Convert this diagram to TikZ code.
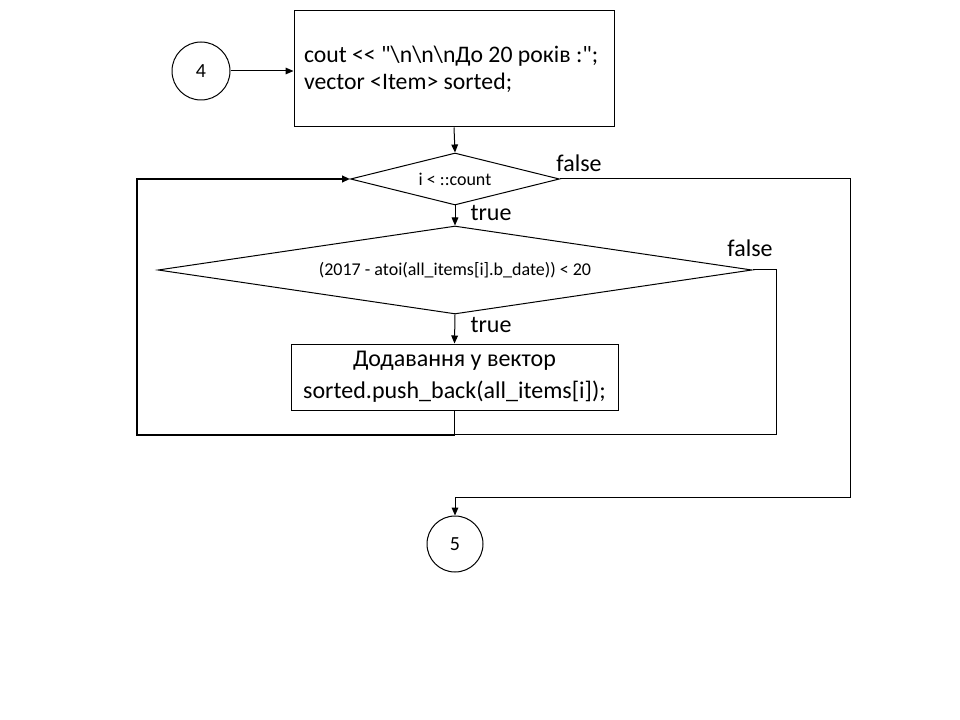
\documentclass[tikz,border=0pt]{standalone}
\usepackage{fontspec}
\setmainfont[Ligatures=TeXOff]{Carlito}
\usepackage{tikz}
\usetikzlibrary{arrows.meta}
\usetikzlibrary{calc}
\usetikzlibrary{positioning,shapes.geometric}
\tikzset{
    flow line/.style={
        line width=0.75pt,
        draw=black
    },
    flow arrow/.style={
        flow line,
        -{Triangle[length=6pt,width=5pt]}
    },
    proc box/.style={
        draw,
        line width=0.75pt,
        rectangle,
        inner sep=0pt,
        font=\fontsize{17.8}{20.5}\selectfont
    },
    cond box/.style={
        draw,
        line width=0.75pt,
        diamond,
        inner sep=0pt,
        font=\fontsize{13.5}{15}\selectfont
    },
    conn circle/.style={
        draw,
        line width=0.75pt,
        circle,
        inner sep=0pt,
        font=\fontsize{15}{17}\selectfont
    },
    branch label/.style={
        inner sep=0pt,
        font=\fontsize{18}{20}\selectfont
    }
}
\begin{document}
\begin{tikzpicture}[x=0.75pt,y=-0.75pt]
            \useasboundingbox (0,0) rectangle (960,720);
            % connectors 4 and 5
            \node[conn circle,minimum size=43.5pt] (c4) at (201,71) {4};
            \node[conn circle,minimum size=42pt] (c5) at (455,544) {5};
            % process boxes
            \node[proc box,minimum width=240pt,minimum height=87pt,
                  text width=225pt,align=flush left] (b1) at (454,69)
                {cout << "\textbackslash n\textbackslash n\textbackslash nДо 20 років :";\\
                 vector <Item> sorted;};
            \node[proc box,minimum width=245.25pt,minimum height=49.5pt,
                  align=center,font=\fontsize{18}{24}\selectfont] (b2) at (454.5,377)
                {Додавання у вектор\\ sorted.push\_back(all\_items[i]);};
            % conditions
            \node[cond box,aspect=4,minimum width=156.75pt,minimum height=39pt] (d1) at (455,179)
                {i < ::count};
            \node[cond box,aspect=6.75,minimum width=445.5pt,minimum height=66pt] (d2) at (455,270)
                {(2017 - atoi(all\_items[i].b\_date)) < 20};
            % branch labels
            \node[branch label] (f1) at (579,163) {false};
            \node[branch label] (t1) at (491,213) {true};
            \node[branch label] (f2) at (750,248) {false};
            \node[branch label] (t2) at (491,325) {true};
            % bend points
            \coordinate (r1) at (850,179);
            \coordinate (j5) at (455,497);
            \coordinate (r2) at (776,434);
            \coordinate (l1) at (137,435);
            \draw[flow arrow] (c4.east) -- (c4.east -| b1.west);
            \draw[flow arrow] (b1.south) -- (d1.north);
            \draw[flow arrow] (d1.south) -- (d2.north);
            \draw[flow arrow] (d2.south) -- (b2.north);
            \draw[flow arrow] (d1.east) -- (r1) |- (j5) -- (c5.north);
            \draw[flow line] (d2.east) -| (r2) -- (b2.south |- r2);
            \draw[flow arrow,line width=1.4pt] (b2.south) |- (l1) |- (d1.west);
          \end{tikzpicture}
\end{document}
